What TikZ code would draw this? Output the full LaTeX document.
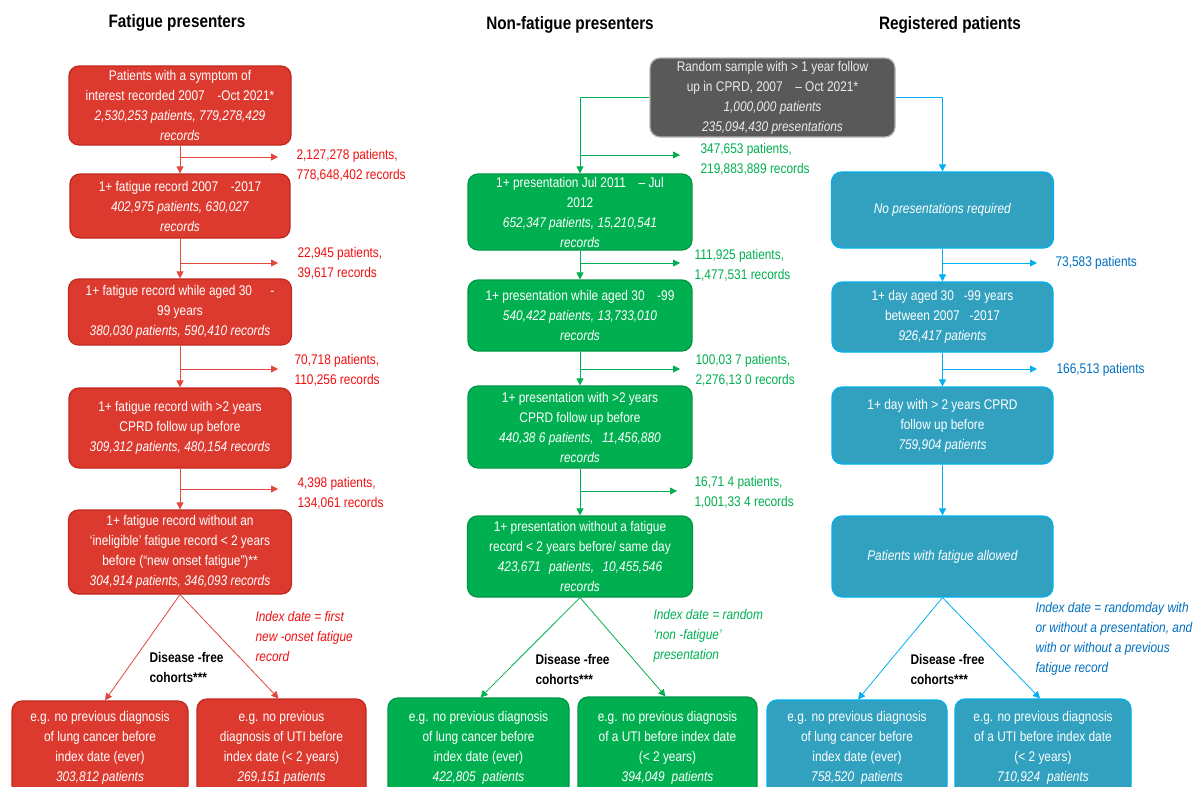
\documentclass[tikz,border=0pt]{standalone}
\usepackage{fontspec}
\setmainfont{Liberation Sans}[FakeStretch=0.85]
\usetikzlibrary{arrows.meta}
\definecolor{rfill}{HTML}{DD3A2F}
\definecolor{rdraw}{HTML}{C0281E}
\definecolor{rtext}{HTML}{F01010}
\definecolor{rline}{HTML}{E2483E}
\definecolor{gfill}{HTML}{00B050}
\definecolor{gtext}{HTML}{00B050}
\definecolor{kfill}{HTML}{595959}
\definecolor{bfill}{HTML}{32A1BF}
\definecolor{bdraw}{HTML}{00B0F0}
\definecolor{btext}{HTML}{0070C0}
\tikzset{
  txt/.style={font=\fontsize{14pt}{20pt}\selectfont},
  box/.style={txt, rounded corners=10pt, line width=1.2pt, align=center, inner sep=2pt, text=white},
  redbox/.style={box, fill=rfill, draw=rdraw},
  grnbox/.style={box, fill=gfill, draw=gfill!85!black},
  blubox/.style={box, fill=bfill, draw=bdraw},
  grybox/.style={box, fill=kfill, draw=gray!60, text=white!92!black},
  hdr/.style={font=\fontsize{18pt}{20pt}\selectfont\bfseries},
  tip/.style={-{Triangle[length=7pt,width=7pt]}},
  rarr/.style={tip, draw=rline, line width=0.8pt},
  garr/.style={tip, draw=gfill, line width=0.8pt},
  barr/.style={tip, draw=bdraw, line width=0.8pt},
  lbl/.style={txt, anchor=west, align=left},
  dis/.style={txt, anchor=west, align=left, font=\fontsize{14pt}{20pt}\selectfont\bfseries},
  itl/.style={lbl, font=\fontsize{14pt}{20pt}\selectfont\itshape},
}
\begin{document}
\begin{tikzpicture}[x=1pt,y=-1pt]
\fill[white] (0,0) rectangle (1195,787);
\useasboundingbox (0,0) rectangle (1195,787);
\clip (0,0) rectangle (1195,787);

% headers
\node[hdr] (h1) at (177,23) {Fatigue presenters};
\node[hdr] (h2) at (570,25) {Non-fatigue presenters};
\node[hdr] (h3) at (950,25) {Registered patients};

% ---------------- red column ----------------
\node[redbox, minimum width=222pt, minimum height=79pt] (R1) at (180,105.5)
 {Patients with a symptom of\\ interest recorded 2007\hspace{0.9em}-Oct 2021*\\ \textit{2,530,253 patients, 779,278,429}\\ \textit{records}};
\node[redbox, minimum width=220pt, minimum height=64pt] (R2) at (180,206)
 {1+ fatigue record 2007\hspace{0.9em}-2017\\ \textit{402,975 patients, 630,027}\\ \textit{records}};
\node[redbox, minimum width=223pt, minimum height=66pt] (R3) at (180,312)
 {1+ fatigue record while aged 30\hspace{1.3em}-\\ 99 years\\ \textit{380,030 patients, 590,410 records}};
\node[redbox, minimum width=222pt, minimum height=80pt] (R4) at (180,428)
 {1+ fatigue record with >2 years\\ CPRD follow up before\\ \textit{309,312 patients, 480,154 records}};
\node[redbox, minimum width=223pt, minimum height=84pt] (R5) at (180,552)
 {1+ fatigue record without an\\ `ineligible' fatigue record < 2 years\\ before (``new onset fatigue'')**\\ \textit{304,914 patients, 346,093 records}};
\node[redbox, minimum width=176pt, minimum height=94pt] (R6a) at (100,748)
 {e.g. no previous diagnosis\\ of lung cancer before\\ index date (ever)\\ \textit{303,812 patients}};
\node[redbox, minimum width=169pt, minimum height=98pt] (R6b) at (281.5,748)
 {e.g. no previous\\ diagnosis of UTI before\\ index date (< 2 years)\\ \textit{269,151 patients}};

\draw[rarr] (R1.south) -- (R2.north);
\draw[rarr] (R2.south) -- (R3.north);
\draw[rarr] (R3.south) -- (R4.north);
\draw[rarr] (R4.south) -- (R5.north);
\coordinate (re1) at (180,157); \coordinate (re1t) at (278,157);
\coordinate (re2) at (180,263); \coordinate (re2t) at (278,263);
\coordinate (re3) at (180,369); \coordinate (re3t) at (278,369);
\coordinate (re4) at (180,489); \coordinate (re4t) at (278,489);
\draw[rarr] (re1) -- (re1t);
\draw[rarr] (re2) -- (re2t);
\draw[rarr] (re3) -- (re3t);
\draw[rarr] (re4) -- (re4t);
\node[lbl, text=rtext] (rx1) at (293,165) {2,127,278 patients,\\ 778,648,402 records};
\node[lbl, text=rtext] (rx2) at (294,263) {22,945 patients,\\ 39,617 records};
\node[lbl, text=rtext] (rx3) at (291,370) {70,718 patients,\\ 110,256 records};
\node[lbl, text=rtext] (rx4) at (294,493) {4,398 patients,\\ 134,061 records};
\draw[rarr] (R5.south) -- ([xshift=5pt]R6a.north);
\draw[rarr] (R5.south) -- ([xshift=-3pt]R6b.north);
\node[dis] (rd) at (146,667) {Disease -free\\ cohorts***};
\node[itl, text=rtext] (ri) at (252,636) {Index date = first\\ new -onset fatigue\\ record};

% ---------------- green column ----------------
\node[grybox, minimum width=245pt, minimum height=79pt] (K) at (772.5,97.5)
 {Random sample with > 1 year follow\\ up in CPRD, 2007\hspace{0.9em}-- Oct 2021*\\ \textit{1,000,000 patients}\\ \textit{235,094,430 presentations}};
\node[grnbox, minimum width=224pt, minimum height=76pt] (G1) at (580,212)
 {1+ presentation Jul 2011\hspace{0.9em}-- Jul\\ 2012\\ \textit{652,347 patients, 15,210,541}\\ \textit{records}};
\node[grnbox, minimum width=224pt, minimum height=71pt] (G2) at (580,315.5)
 {1+ presentation while aged 30\hspace{0.9em}-99\\ \textit{540,422 patients, 13,733,010}\\ \textit{records}};
\node[grnbox, minimum width=224pt, minimum height=82pt] (G3) at (580,427)
 {1+ presentation with >2 years\\ CPRD follow up before\\ \textit{440,38 6 patients,\hspace{0.6em}11,456,880}\\ \textit{records}};
\node[grnbox, minimum width=225pt, minimum height=81pt] (G4) at (580,556.5)
 {1+ presentation without a fatigue\\ record < 2 years before/ same day\\ \textit{423,671\hspace{0.6em}patients,\hspace{0.6em}10,455,546}\\ \textit{records}};
\node[grnbox, minimum width=181pt, minimum height=100pt] (G5a) at (478.5,748)
 {e.g. no previous diagnosis\\ of lung cancer before\\ index date (ever)\\ \textit{422,805\hspace{0.5em}patients}};
\node[grnbox, minimum width=179pt, minimum height=102pt] (G5b) at (667.5,748)
 {e.g. no previous diagnosis\\ of a UTI before index date\\ (< 2 years)\\ \textit{394,049\hspace{0.5em}patients}};

\draw[garr] (K.west) -| (G1.north);
\draw[garr] (G1.south) -- (G2.north);
\draw[garr] (G2.south) -- (G3.north);
\draw[garr] (G3.south) -- (G4.north);
\coordinate (ge1) at (580,155); \coordinate (ge1t) at (680,155);
\coordinate (ge2) at (580,263); \coordinate (ge2t) at (680,263);
\coordinate (ge3) at (580,369); \coordinate (ge3t) at (680,369);
\coordinate (ge4) at (580,491); \coordinate (ge4t) at (677,491);
\draw[garr] (ge1) -- (ge1t);
\draw[garr] (ge2) -- (ge2t);
\draw[garr] (ge3) -- (ge3t);
\draw[garr] (ge4) -- (ge4t);
\node[lbl, text=gtext] (gx1) at (697,159) {347,653 patients,\\ 219,883,889 records};
\node[lbl, text=gtext] (gx2) at (691,265) {111,925 patients,\\ 1,477,531 records};
\node[lbl, text=gtext] (gx3) at (692,370) {100,03 7 patients,\\ 2,276,13 0 records};
\node[lbl, text=gtext] (gx4) at (691,492) {16,71 4 patients,\\ 1,001,33 4 records};
\draw[garr] (G4.south) -- ([xshift=2pt]G5a.north);
\draw[garr] (G4.south) -- ([xshift=-2pt]G5b.north);
\node[dis] (gd) at (532,669) {Disease -free\\ cohorts***};
\node[itl, text=gtext] (gi) at (650,636) {Index date = random\\ `non -fatigue'\\ presentation};

% ---------------- blue column ----------------
\node[blubox, minimum width=222pt, minimum height=76pt] (B1) at (942.5,210)
 {\textit{No presentations required}};
\node[blubox, minimum width=221pt, minimum height=70pt] (B2) at (942.5,317)
 {1+ day aged 30\hspace{0.7em}-99 years\\ between 2007\hspace{0.7em}-2017\\ \textit{926,417 patients}};
\node[blubox, minimum width=221pt, minimum height=77pt] (B3) at (942.5,425.5)
 {1+ day with > 2 years CPRD\\ follow up before\\ \textit{759,904 patients}};
\node[blubox, minimum width=221pt, minimum height=81pt] (B4) at (942.5,556.5)
 {\textit{Patients with fatigue allowed}};
\node[blubox, minimum width=180pt, minimum height=96pt] (B5a) at (857,748)
 {e.g. no previous diagnosis\\ of lung cancer before\\ index date (ever)\\ \textit{758,520\hspace{0.5em}patients}};
\node[blubox, minimum width=176pt, minimum height=98pt] (B5b) at (1043,748)
 {e.g. no previous diagnosis\\ of a UTI before index date\\ (< 2 years)\\ \textit{710,924\hspace{0.5em}patients}};

\draw[barr] (K.east) -| (B1.north);
\draw[barr] (B1.south) -- (B2.north);
\draw[barr] (B2.south) -- (B3.north);
\draw[barr] (B3.south) -- (B4.north);
\coordinate (be1) at (942.5,263); \coordinate (be1t) at (1037,263);
\coordinate (be2) at (942.5,369); \coordinate (be2t) at (1037,369);
\draw[barr] (be1) -- (be1t);
\draw[barr] (be2) -- (be2t);
\node[lbl, text=btext] (bx1) at (1052,263) {73,583 patients};
\node[lbl, text=btext] (bx2) at (1053,370) {166,513 patients};
\draw[barr] (B4.south) -- ([xshift=1pt]B5a.north);
\draw[barr] (B4.south) -- ([xshift=-3pt]B5b.north);
\node[dis] (bd) at (907,669) {Disease -free\\ cohorts***};
\node[itl, text=btext] (bi) at (1032,639) {Index date = randomday with\\ or without a presentation, and\\ with or without a previous\\ fatigue record};
\end{tikzpicture}
\end{document}
